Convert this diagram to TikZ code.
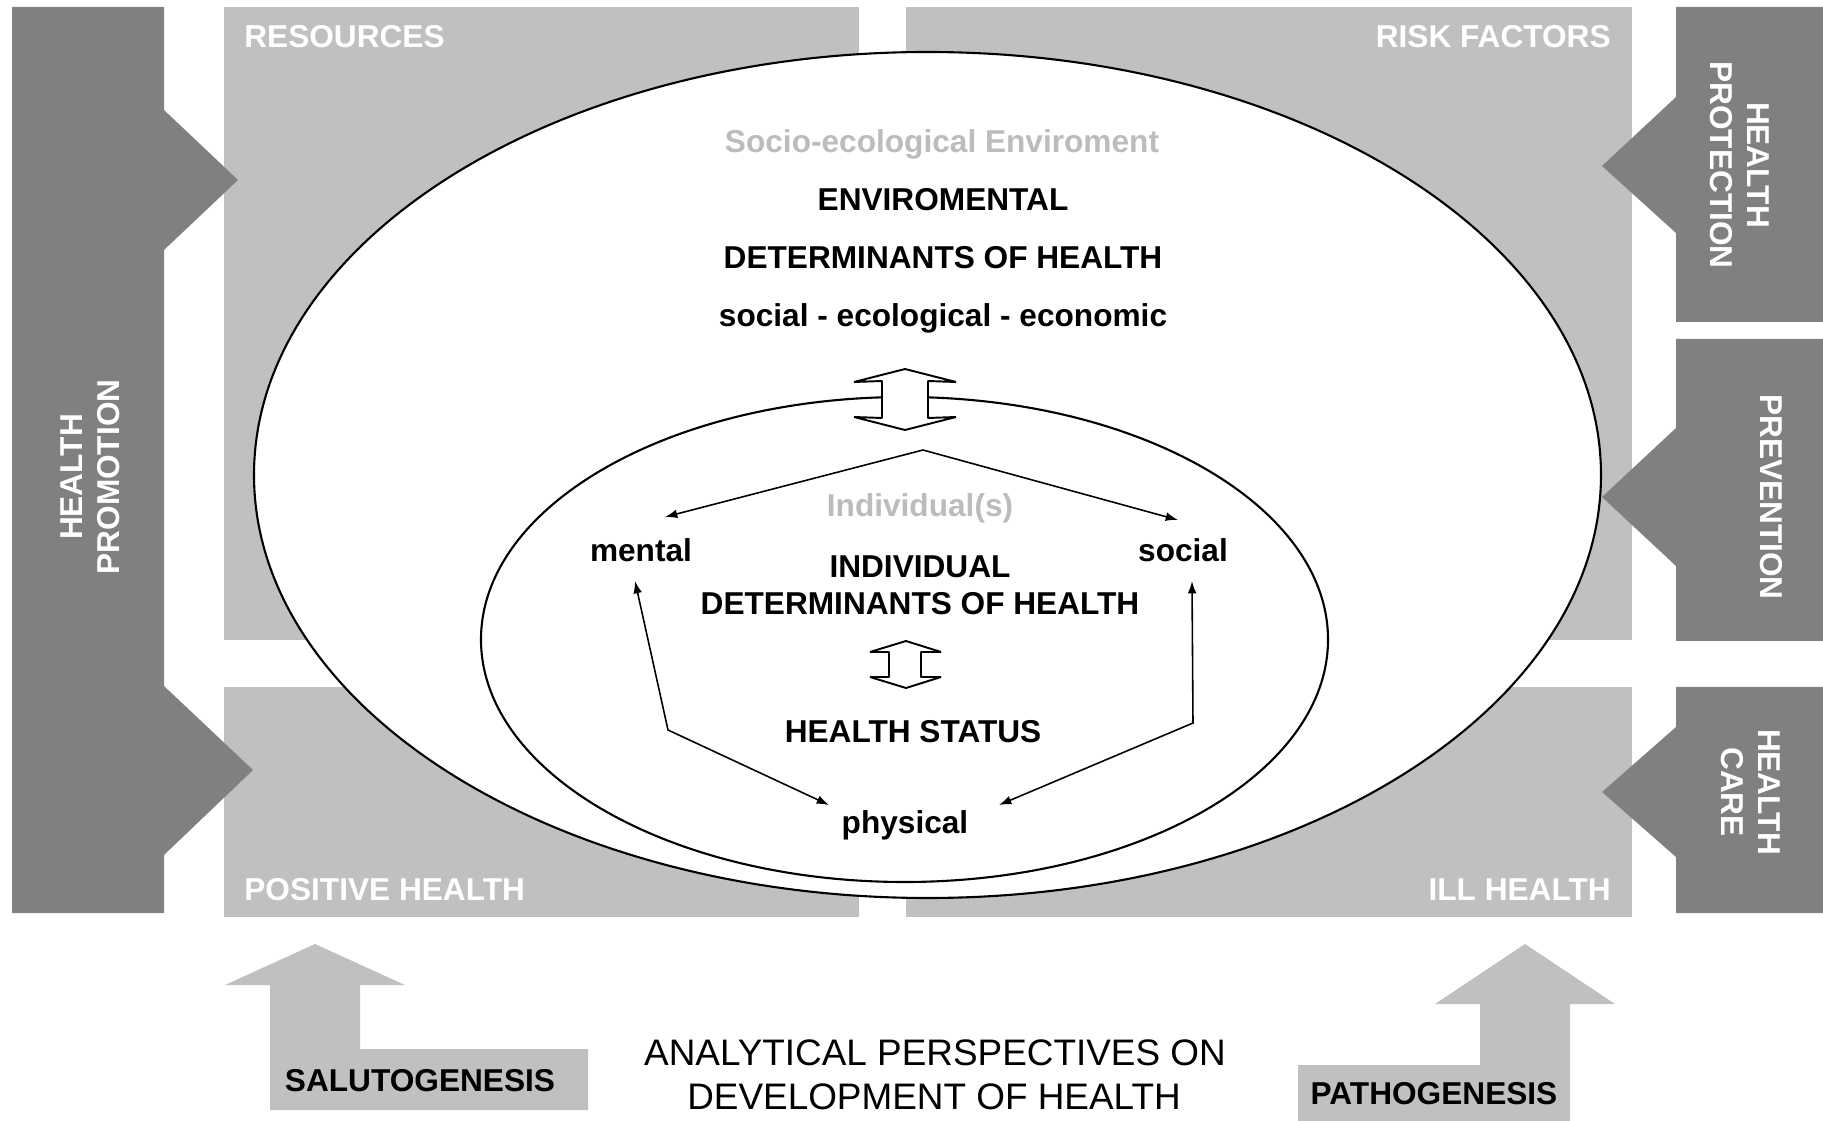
\documentclass[tikz,border=0pt]{standalone}
\usepackage{fontspec}
\setmainfont{Liberation Sans}
\usetikzlibrary{arrows.meta}
\definecolor{darkbox}{RGB}{128,128,128}
\definecolor{lightbox}{RGB}{192,192,192}
\definecolor{softgray}{RGB}{188,188,188}
\newcommand{\lblfont}{\fontsize{18}{21}\selectfont\bfseries}
\tikzset{
  boxlabel/.style={text=white,font=\lblfont,inner sep=0pt},
  mainlabel/.style={text=black,font=\lblfont,inner sep=0pt,anchor=base},
  softlabel/.style={text=softgray,font=\lblfont,inner sep=0pt,anchor=base},
  sidelabel/.style={text=white,font=\lblfont,inner sep=0pt,align=center},
  dblarrow/.style={draw=black,fill=white,line width=1.1pt,line join=bevel},
  link/.style={line width=0.9pt,{Latex[length=7pt,width=5pt]}-{Latex[length=7pt,width=5pt]}},
  halflink/.style={line width=0.9pt,-{Latex[length=7pt,width=5pt]}}
}
\begin{document}
\begin{tikzpicture}[x=0.02cm,y=-0.02cm]
\useasboundingbox (0,0) rectangle (1823,1121);
\fill[lightbox] (224,7) rectangle (859,640);
\fill[lightbox] (906,7) rectangle (1632,640);
\fill[lightbox] (224,687) rectangle (859,917);
\fill[lightbox] (906,687) rectangle (1632,917);
\fill[darkbox] (12,7)--(164,7)--(164,110)--(238,180)--(164,250)--(164,686)--(253,770)--(164,855)--(164,913)--(12,913)--cycle;
\fill[darkbox] (1823,7)--(1676,7)--(1676,97)--(1602,166)--(1676,233)--(1676,322)--(1823,322)--cycle;
\fill[darkbox] (1823,339)--(1676,339)--(1676,428)--(1602,497)--(1676,566)--(1676,641)--(1823,641)--cycle;
\fill[darkbox] (1823,687)--(1676,687)--(1676,727)--(1602,792)--(1676,857)--(1676,913)--(1823,913)--cycle;
\fill[lightbox] (270,1110)--(270,985)--(225,985)--(315,944)--(405,985)--(360,985)--(360,1049)--(588,1049)--(588,1110)--cycle;
\fill[lightbox] (1298,1065)--(1480,1065)--(1480,1004)--(1435,1004)--(1525,944)--(1615,1004)--(1570,1004)--(1570,1121)--(1298,1121)--cycle;
\draw[line width=1.2pt,fill=white] (927.5,475) ellipse [x radius=673.5,y radius=423];
\draw[line width=1.2pt] (904.5,639.5) ellipse [x radius=423.5,y radius=242.5];
\draw[dblarrow] (905,369)--(854,382)--(882,381)--(882,418)--(854,417)--(905,430)--(956,417)--(928,418)--(928,381)--(956,382)--cycle;
\draw[dblarrow] (906,641)--(870,652)--(889,652)--(889,677)--(870,677)--(906,688)--(941,677)--(921,677)--(921,652)--(941,652)--cycle;
\node[boxlabel,anchor=base west] (res) at (244,48) {RESOURCES};
\node[boxlabel,anchor=base east] (risk) at (1611,48) {RISK FACTORS};
\node[boxlabel,anchor=base west] (pos) at (244,900) {POSITIVE HEALTH};
\node[boxlabel,anchor=base east] (ill) at (1611,900) {ILL HEALTH};
\node[sidelabel,rotate=90] (promo) at (90,477) {HEALTH\\PROMOTION};
\node[sidelabel,rotate=-90] (protect) at (1740,165) {HEALTH\\PROTECTION};
\node[sidelabel,rotate=-90] (prevent) at (1771,497) {PREVENTION};
\node[sidelabel,rotate=-90] (care) at (1751,792) {HEALTH\\CARE};
\node[softlabel] (socio) at (942,153) {Socio-ecological Enviroment};
\node[mainlabel] (env) at (943,211) {ENVIROMENTAL};
\node[mainlabel] (envdet) at (943,269) {DETERMINANTS OF HEALTH};
\node[mainlabel] (envkind) at (943,327) {social - ecological - economic};
\node[softlabel] (indiv) at (920,517) {Individual(s)};
\node[mainlabel] (mental) at (641,562) {mental};
\node[mainlabel] (social) at (1183,562) {social};
\node[mainlabel] (inddet) at (920,578) {INDIVIDUAL};
\node[mainlabel] (inddet2) at (920,615) {DETERMINANTS OF HEALTH};
\node[mainlabel] (status) at (913,743) {HEALTH STATUS};
\node[mainlabel] (physical) at (905,833) {physical};
\node[mainlabel] (saluto) at (420,1091) {SALUTOGENESIS};
\node[mainlabel] (patho) at (1434,1104) {PATHOGENESIS};
\node[anchor=base,inner sep=0pt,font=\fontsize{21}{25}\selectfont] (persp) at (935,1065) {ANALYTICAL PERSPECTIVES ON};
\node[anchor=base,inner sep=0pt,font=\fontsize{21}{25}\selectfont] (persp2) at (934,1109) {DEVELOPMENT OF HEALTH};
\coordinate (apex) at (923,450);
\coordinate (mentalin) at (665,517);
\coordinate (socialin) at (1178,520);
\coordinate (mentalup) at (635,581);
\coordinate (mentalbend) at (668,730);
\coordinate (physleft) at (829,805);
\coordinate (socialup) at (1192,581);
\coordinate (socialbend) at (1193,723);
\coordinate (physright) at (999,805);
\draw[halflink] (apex) -- (mentalin);
\draw[halflink] (apex) -- (socialin);
\draw[link] (mentalup) -- (mentalbend) -- (physleft);
\draw[link] (socialup) -- (socialbend) -- (physright);
\end{tikzpicture}
\end{document}
